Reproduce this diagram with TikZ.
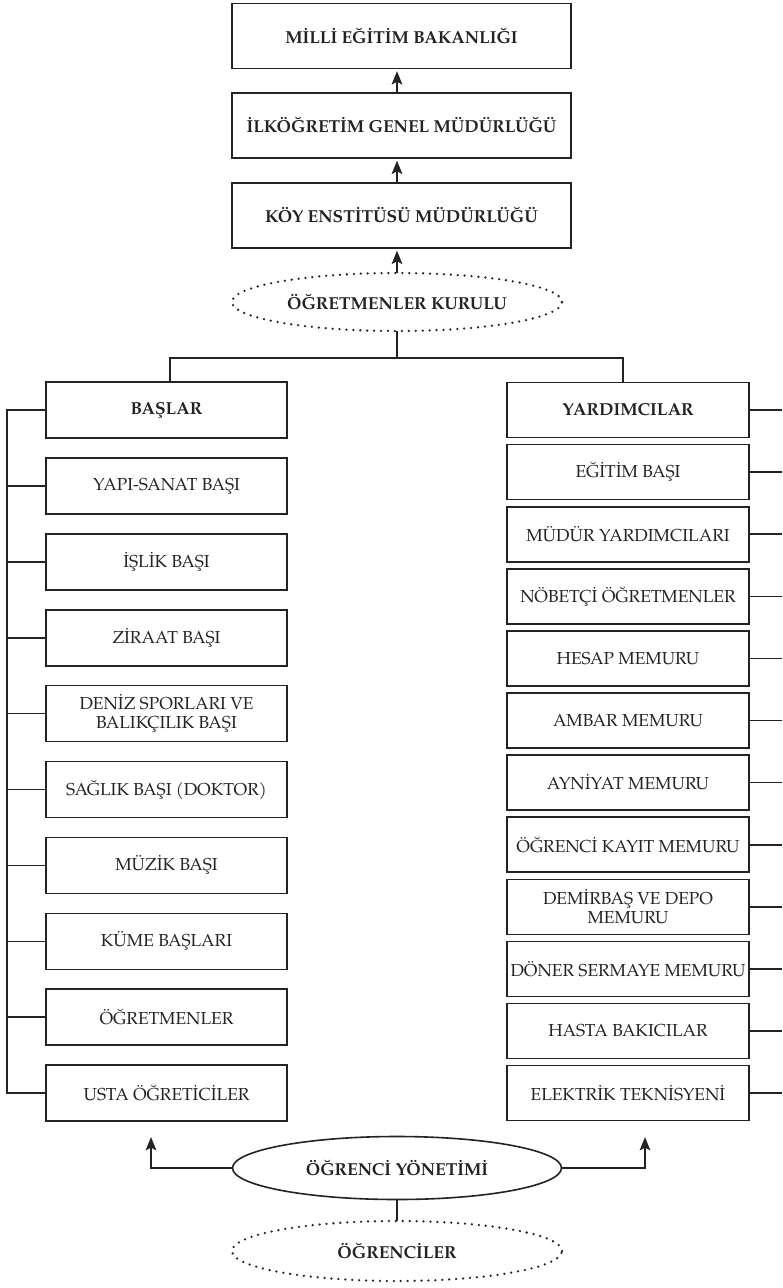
\documentclass[tikz,border=0pt]{standalone}
\usepackage{fontspec}
\setmainfont{texgyrepagella}[Extension=.otf,UprightFont=*-regular,BoldFont=*-bold]
\usetikzlibrary{shapes.geometric,arrows.meta,calc}
\definecolor{ink}{RGB}{35,35,35}
\newcommand{\fsz}{\fontsize{13}{14.5}\selectfont}
\tikzset{
  lw/.style={line width=1.2pt, draw=ink},
  txt/.style={font=\fsz, text=ink, align=center, inner sep=1pt, outer sep=0pt},
  topbox/.style={lw, txt, rectangle, minimum width=254.25pt, minimum height=48.75pt, font=\fsz\bfseries},
  lbox/.style={lw, txt, rectangle, minimum width=180.75pt, minimum height=42pt},
  rbox/.style={lw, txt, rectangle, minimum width=181.5pt, minimum height=41.25pt},
  dotell/.style={txt, ellipse, draw=ink, line width=1.9pt, dash pattern=on 0pt off 5.2pt, line cap=round, font=\fsz\bfseries},
  solell/.style={lw, txt, ellipse, font=\fsz\bfseries},
  arr/.style={lw, -{Stealth[length=10pt,width=8pt,inset=2pt]}},
  conn/.style={lw}
}
\begin{document}
\begin{tikzpicture}[x=0.75pt,y=-0.75pt]
\useasboundingbox (0,0) rectangle (782,1288);
% top chain
\node[topbox] (meb) at (401.5,36) {MİLLİ EĞİTİM BAKANLIĞI};
\node[topbox] (igm) at (401.5,125.5) {İLKÖĞRETİM GENEL MÜDÜRLÜĞÜ};
\node[topbox] (kem) at (401.5,215.5) {KÖY ENSTİTÜSÜ MÜDÜRLÜĞÜ};
\node[dotell, minimum width=247.5pt, minimum height=43.5pt] (kur) at (397,302) {ÖĞRETMENLER KURULU};
\coordinate (ax) at (397,0);
\draw[arr, shorten >=2pt] (igm.north -| ax) -- (meb.south -| ax);
\draw[arr, shorten >=2pt] (kem.north -| ax) -- (igm.south -| ax);
\draw[arr, shorten >=2pt] (kur.north) -- (kem.south -| ax);
% left column
\node[lbox, font=\fsz\bfseries] (basl) at (166.5,410) {BAŞLAR};
\node[lbox] (l1) at (166.5,485.9) {YAPI-SANAT BAŞI};
\node[lbox] (l2) at (166.5,561.8) {İŞLİK BAŞI};
\node[lbox] (l3) at (166.5,637.7) {ZİRAAT BAŞI};
\node[lbox] (l4) at (166.5,713.6) {DENİZ SPORLARI VE\\BALIKÇILIK BAŞI};
\node[lbox] (l5) at (166.5,789.5) {SAĞLIK BAŞI (DOKTOR)};
\node[lbox] (l6) at (166.5,865.4) {MÜZİK BAŞI};
\node[lbox] (l7) at (166.5,941.3) {KÜME BAŞLARI};
\node[lbox] (l8) at (166.5,1017.2) {ÖĞRETMENLER};
\node[lbox] (l9) at (166.5,1093.1) {USTA ÖĞRETİCİLER};
% right column
\node[rbox, font=\fsz\bfseries] (yard) at (628,410) {YARDIMCILAR};
\node[rbox] (r1) at (628,472.1) {EĞİTİM BAŞI};
\node[rbox] (r2) at (628,534.2) {MÜDÜR YARDIMCILARI};
\node[rbox] (r3) at (628,596.3) {NÖBETÇİ ÖĞRETMENLER};
\node[rbox] (r4) at (628,658.4) {HESAP MEMURU};
\node[rbox] (r5) at (628,720.5) {AMBAR MEMURU};
\node[rbox] (r6) at (628,782.6) {AYNİYAT MEMURU};
\node[rbox] (r7) at (628,844.7) {ÖĞRENCİ KAYIT MEMURU};
\node[rbox] (r8) at (628,906.8) {DEMİRBAŞ VE DEPO\\MEMURU};
\node[rbox] (r9) at (628,968.9) {DÖNER SERMAYE MEMURU};
\node[rbox] (r10) at (628,1031) {HASTA BAKICILAR};
\node[rbox] (r11) at (628,1093.1) {ELEKTRİK TEKNİSYENİ};
% branch bar
\coordinate (barL) at (170,358);
\coordinate (barR) at (623,358);
\draw[conn] (kur.south) -- (kur.south |- barL);
\draw[conn] (basl.north -| barL) -- (barL) -- (barR) -- (yard.north -| barR);
% left spine
\coordinate (lv) at (7,0);
\draw[conn] (basl.west) -- (basl.west -| lv) -- (l9.west -| lv) -- (l9.west);
\foreach \n in {l1,l2,l3,l4,l5,l6,l7,l8} \draw[conn] (\n.west) -- (\n.west -| lv);
% right ticks
\coordinate (rv) at (782,0);
\foreach \n in {yard,r1,r2,r3,r4,r5,r6,r7,r8,r9,r10,r11} \draw[conn] (\n.east) -- (\n.east -| rv);
% bottom
\node[solell, minimum width=246.75pt, minimum height=47.25pt] (yon) at (397,1168) {ÖĞRENCİ YÖNETİMİ};
\node[dotell, minimum width=247.5pt, minimum height=45pt] (ogr) at (397,1251) {ÖĞRENCİLER};
\coordinate (aL) at (151,1137);
\coordinate (aR) at (645,1137);
\draw[arr] (yon.west) -| (aL);
\draw[arr] (yon.east) -| (aR);
\draw[conn] (yon.south) -- (ogr.north);
\end{tikzpicture}
\end{document}
